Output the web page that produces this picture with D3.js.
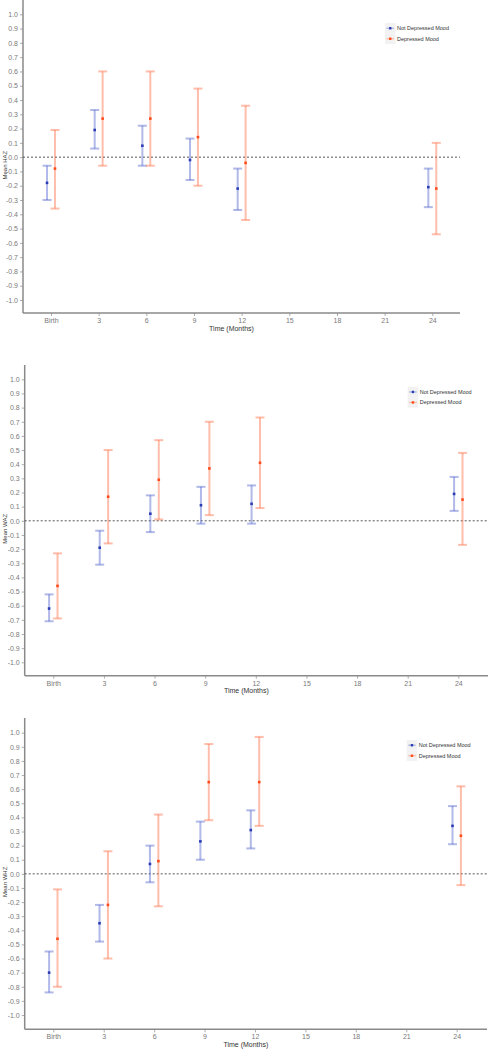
<!DOCTYPE html>
<html><head><meta charset="utf-8">
<script src="https://cdn.jsdelivr.net/npm/d3@7"></script>
<style>
html,body{margin:0;padding:0;background:#fff;}
svg{display:block;font-family:"Liberation Sans",Arial,sans-serif;}
</style></head>
<body>
<svg id="chart" width="488" height="1050"></svg>
<script>
// ---- data ----
const months = [0, 3, 6, 9, 12, 24];
const xTickValues = [0, 3, 6, 9, 12, 15, 18, 21, 24];
const xTickLabels = ["Birth", "3", "6", "9", "12", "15", "18", "21", "24"];
const yTickValues = [1.0, 0.9, 0.8, 0.7, 0.6, 0.5, 0.4, 0.3, 0.2, 0.1, 0.0, -0.1, -0.2, -0.3, -0.4, -0.5, -0.6, -0.7, -0.8, -0.9, -1.0];
const seriesNames = ["Not Depressed Mood", "Depressed Mood"];
const panelTitles = ["Mean HAZ", "Mean WAZ", "Mean WHZ"];
const xTitle = "Time (Months)";

// HAZ
const hazNotMean = [-0.18, 0.19, 0.08, -0.02, -0.22, -0.21];
const hazNotLow  = [-0.30, 0.06, -0.06, -0.16, -0.37, -0.35];
const hazNotHigh = [-0.06, 0.33, 0.22, 0.13, -0.08, -0.08];
const hazDepMean = [-0.08, 0.27, 0.27, 0.14, -0.04, -0.22];
const hazDepLow  = [-0.36, -0.06, -0.06, -0.20, -0.44, -0.54];
const hazDepHigh = [0.19, 0.60, 0.60, 0.48, 0.36, 0.10];
// WAZ
const wazNotMean = [-0.62, -0.19, 0.05, 0.11, 0.12, 0.19];
const wazNotLow  = [-0.71, -0.31, -0.08, -0.02, -0.02, 0.07];
const wazNotHigh = [-0.52, -0.07, 0.18, 0.24, 0.25, 0.31];
const wazDepMean = [-0.46, 0.17, 0.29, 0.37, 0.41, 0.15];
const wazDepLow  = [-0.69, -0.16, 0.01, 0.04, 0.09, -0.17];
const wazDepHigh = [-0.23, 0.50, 0.57, 0.70, 0.73, 0.48];
// WHZ
const whzNotMean = [-0.70, -0.35, 0.07, 0.23, 0.31, 0.34];
const whzNotLow  = [-0.84, -0.48, -0.06, 0.10, 0.18, 0.21];
const whzNotHigh = [-0.55, -0.22, 0.20, 0.37, 0.45, 0.48];
const whzDepMean = [-0.46, -0.22, 0.09, 0.65, 0.65, 0.27];
const whzDepLow  = [-0.80, -0.60, -0.23, 0.38, 0.34, -0.08];
const whzDepHigh = [-0.11, 0.16, 0.42, 0.92, 0.97, 0.62];

// ---- layout/styles ----
const colors = {
  bar: ["rgba(80,100,205,0.45)", "rgba(255,110,70,0.45)"],
  pt:  ["#2b3cb2", "#ff4a1a"]
};
const dodge = 0.25;
const panels = [
  {title: panelTitles[0], data: [[hazNotMean, hazNotLow, hazNotHigh],[hazDepMean, hazDepLow, hazDepHigh]],
   left: 23, right: 460, top: 0, bottom: 313, y1: 14.3, ym1: 300, x0: 51, x24: 432.3,
   legend: {x: 385, y: 23}},
  {title: panelTitles[1], data: [[wazNotMean, wazNotLow, wazNotHigh],[wazDepMean, wazDepLow, wazDepHigh]],
   left: 24.7, right: 488, top: 365, bottom: 675.7, y1: 379.3, ym1: 662.3, x0: 53.3, x24: 458.3,
   legend: {x: 407.7, y: 386.7}},
  {title: panelTitles[2], data: [[whzNotMean, whzNotLow, whzNotHigh],[whzDepMean, whzDepLow, whzDepHigh]],
   left: 24.7, right: 487, top: 718, bottom: 1029.3, y1: 732.7, ym1: 1015, x0: 53.3, x24: 456.7,
   legend: {x: 406.7, y: 740}}
];

const svg = d3.select("#chart");
const fmt = v => d3.format(".1f")(v).replace("\u2212", "-");

panels.forEach(p => {
  const g = svg.append("g");
  const x = d3.scaleLinear().domain([0, 24]).range([p.x0, p.x24]);
  const y = d3.scaleLinear().domain([-1, 1]).range([p.ym1, p.y1]);

  // y axis
  const yAxis = d3.axisLeft(y).tickValues(yTickValues).tickFormat(fmt).tickSize(3).tickPadding(2);
  const ya = g.append("g").attr("transform", `translate(${p.left},0)`).call(yAxis);
  ya.select(".domain").remove();
  ya.selectAll(".tick line").attr("stroke", "#999").attr("stroke-width", 0.8);
  ya.selectAll(".tick text").attr("fill", "#7a7a7a").attr("font-size", 7);
  g.append("line").attr("x1", p.left).attr("x2", p.left).attr("y1", p.top).attr("y2", p.bottom)
    .attr("stroke", "#8a8a8a").attr("stroke-width", 1.5);

  // x axis
  const xAxis = d3.axisBottom(x).tickValues(xTickValues).tickFormat((d, i) => xTickLabels[i]).tickSize(3).tickPadding(2);
  const xa = g.append("g").attr("transform", `translate(0,${p.bottom})`).call(xAxis);
  xa.select(".domain").remove();
  xa.selectAll(".tick line").attr("stroke", "#999").attr("stroke-width", 0.8);
  xa.selectAll(".tick text").attr("fill", "#7a7a7a").attr("font-size", 7);
  g.append("line").attr("x1", p.left).attr("x2", p.right).attr("y1", p.bottom).attr("y2", p.bottom)
    .attr("stroke", "#8a8a8a").attr("stroke-width", 1.5);

  // titles
  g.append("text").attr("x", (p.left + p.right) / 2 - 10).attr("y", p.bottom + 17.5)
    .attr("text-anchor", "middle").attr("font-size", 7).attr("fill", "#333").text(xTitle);
  const ty = (p.y1 + p.ym1) / 2 + 8;
  g.append("text").attr("transform", `translate(7,${ty}) rotate(-90)`)
    .attr("text-anchor", "middle").attr("font-size", 6).attr("fill", "#333").text(p.title);

  // zero reference line
  g.append("line").attr("x1", p.left).attr("x2", p.right).attr("y1", y(0)).attr("y2", y(0))
    .attr("stroke", "#555").attr("stroke-width", 1).attr("stroke-dasharray", "2,2");

  // error bars
  p.data.forEach((s, si) => {
    const [mean, lo, hi] = s;
    const off = si === 0 ? -dodge : dodge;
    const rows = months.map((m, i) => ({m, mean: mean[i], lo: lo[i], hi: hi[i]}));
    const eg = g.append("g");
    eg.selectAll(".v").data(rows).join("line")
      .attr("x1", d => x(d.m + off)).attr("x2", d => x(d.m + off))
      .attr("y1", d => y(d.lo)).attr("y2", d => y(d.hi))
      .attr("stroke", colors.bar[si]).attr("stroke-width", 2);
    ["lo", "hi"].forEach(k => {
      eg.selectAll(".c" + k).data(rows).join("line")
        .attr("x1", d => x(d.m + off) - 4.5).attr("x2", d => x(d.m + off) + 4.5)
        .attr("y1", d => y(d[k])).attr("y2", d => y(d[k]))
        .attr("stroke", colors.bar[si]).attr("stroke-width", 2);
    });
    eg.selectAll(".p").data(rows).join("rect")
      .attr("x", d => x(d.m + off) - 1.3).attr("y", d => y(d.mean) - 1.3)
      .attr("width", 2.6).attr("height", 2.6).attr("fill", colors.pt[si]);
  });

  // legend
  const lg = g.append("g").attr("transform", `translate(${p.legend.x},${p.legend.y})`);
  seriesNames.forEach((name, i) => {
    const ky = i * 10.5;
    lg.append("rect").attr("x", 0).attr("y", ky).attr("width", 10.5).attr("height", 10.5).attr("fill", "#f2f2f2");
    lg.append("line").attr("x1", 1.5).attr("x2", 9).attr("y1", ky + 5.25).attr("y2", ky + 5.25)
      .attr("stroke", colors.bar[i]).attr("stroke-width", 1.2);
    lg.append("rect").attr("x", 5.25 - 1.2).attr("y", ky + 5.25 - 1.2).attr("width", 2.4).attr("height", 2.4).attr("fill", colors.pt[i]);
    lg.append("text").attr("x", 12).attr("y", ky + 5.25).attr("dy", "0.35em")
      .attr("font-size", 5.5).attr("fill", "#333").text(name);
  });
});
</script>
</body></html>
